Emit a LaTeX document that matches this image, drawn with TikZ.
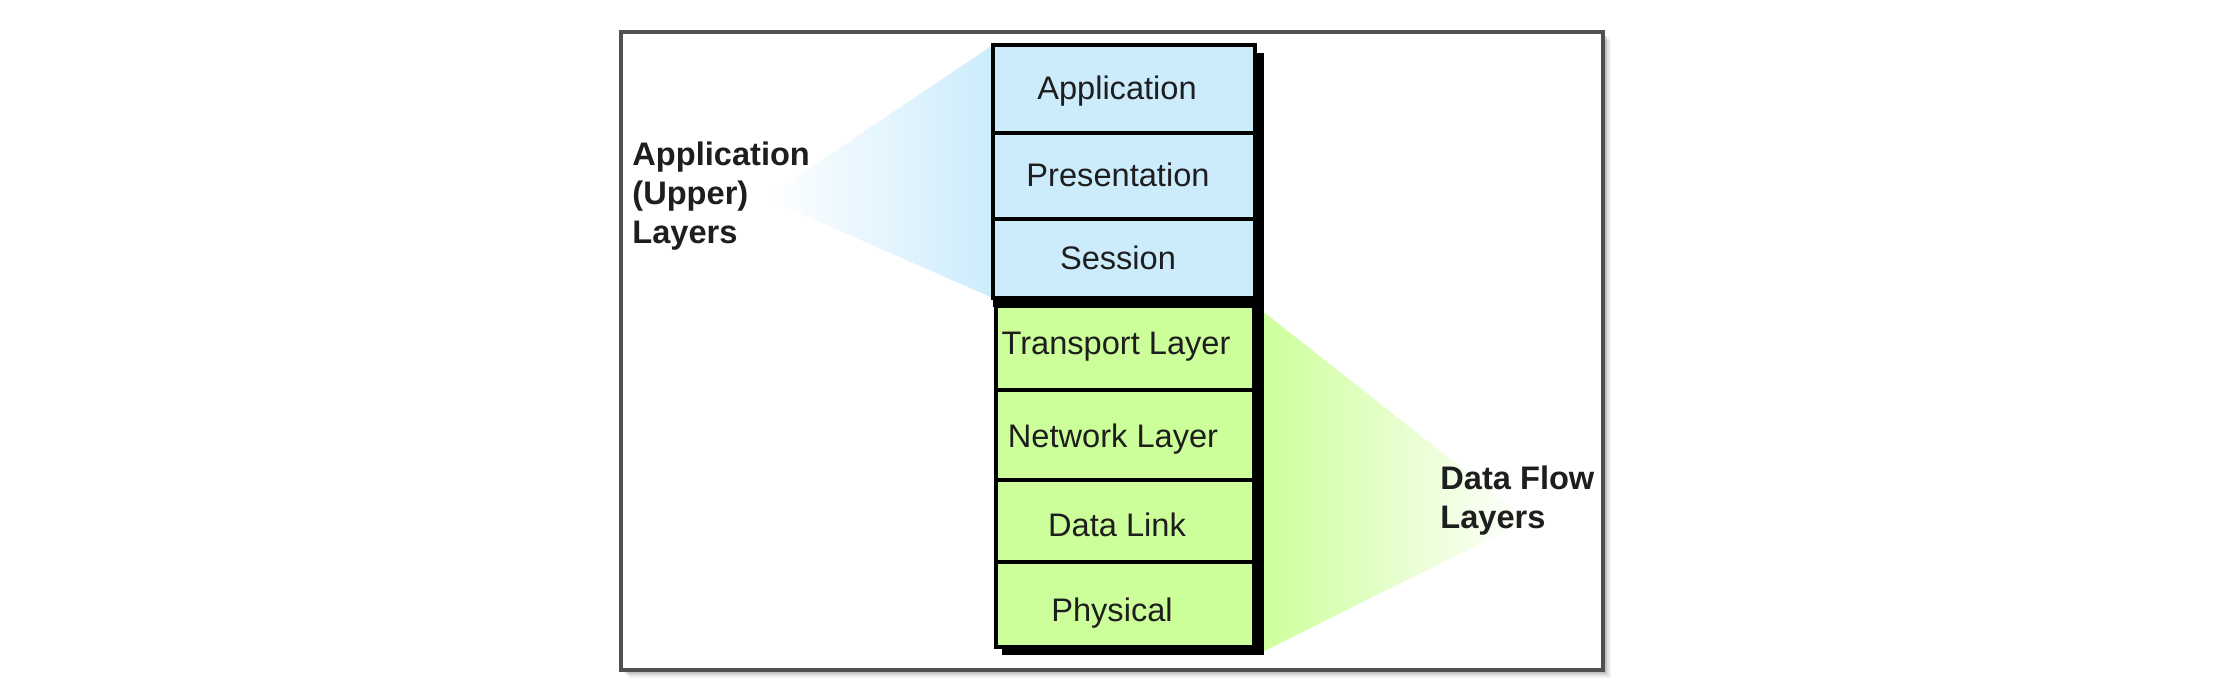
\documentclass[tikz,border=0pt]{standalone}
\usepackage{fontspec}
\setmainfont{Liberation Sans}
\usetikzlibrary{shadings}
\pgfdeclarelayer{background}
\pgfdeclarelayer{frame}
\pgfsetlayers{frame,background,main}
\definecolor{bluefill}{RGB}{204,236,252}
\definecolor{greenfill}{RGB}{204,255,153}
\definecolor{framegray}{RGB}{80,80,80}
\definecolor{txt}{RGB}{30,30,30}
\tikzset{
  layerbox/.style={draw=black, line width=2pt, inner sep=0pt, outer sep=0pt, anchor=center},
  bluebox/.style={layerbox, fill=bluefill, minimum width=131pt},
  greenbox/.style={layerbox, fill=greenfill, minimum width=129pt},
  boxtext/.style={text=txt, inner sep=0pt, font=\fontsize{16.3}{19.5}\selectfont},
  sidetext/.style={text=txt, inner sep=0pt, align=left, anchor=west, font=\fontsize{16.3}{19.5}\selectfont\bfseries}
}
\begin{document}
\begin{tikzpicture}[x=0.5pt,y=-0.5pt]
\useasboundingbox (0,0) rectangle (2216,693);
% outer frame with soft shadow
\begin{pgfonlayer}{frame}
  \foreach \i/\o in {8/0.05,6/0.08,4/0.12,2/0.18}{
    \fill[black,opacity=\o] (621+\i,32+\i) rectangle (1603+\i,670+\i);
  }
  \filldraw[fill=white, draw=framegray, line width=1.6pt] (621,32) rectangle (1603,670);
\end{pgfonlayer}
% stack shadow
\fill[black] (1002,53) rectangle (1264,655);
\fill[black] (993,296) rectangle (1264,307);
% boxes
\node[bluebox, minimum height=44pt]   (app) at (1124,89)    {};
\node[bluebox, minimum height=43pt]   (pre) at (1124,176)   {};
\node[bluebox, minimum height=39.5pt] (ses) at (1124,258.5) {};
\node[greenbox, minimum height=42pt]  (trn) at (1125,348)   {};
\node[greenbox, minimum height=45pt]  (net) at (1125,435)   {};
\node[greenbox, minimum height=41pt]  (dl)  at (1125,521)   {};
\node[greenbox, minimum height=42.5pt](phy) at (1125,604.5) {};
% box texts
\node[boxtext] (tapp) at (1117,91)  {Application};
\node[boxtext] (tpre) at (1118,175) {Presentation};
\node[boxtext] (tses) at (1118,258) {Session};
\node[boxtext] (ttrn) at (1116,347) {Transport Layer};
\node[boxtext] (tnet) at (1113,439) {Network Layer};
\node[boxtext] (tdl)  at (1117,525) {Data Link};
\node[boxtext] (tphy) at (1112,613) {Physical};
% fans
\coordinate (bapex) at (765,198);
\coordinate (gapex) at (1528,520);
\begin{pgfonlayer}{background}
  \shade[left color=white, right color=bluefill]
    (app.north west) -- (bapex) -- (ses.south west) -- cycle;
  \shade[left color=greenfill, right color=white]
    (1256,306) -- (gapex) -- (1256,655) -- cycle;
\end{pgfonlayer}
% side labels
\node[sidetext] (upper) at (632,196) {Application\\(Upper)\\Layers};
\node[sidetext] (flow) at (1440,501) {Data Flow\\Layers};
\end{tikzpicture}
\end{document}
